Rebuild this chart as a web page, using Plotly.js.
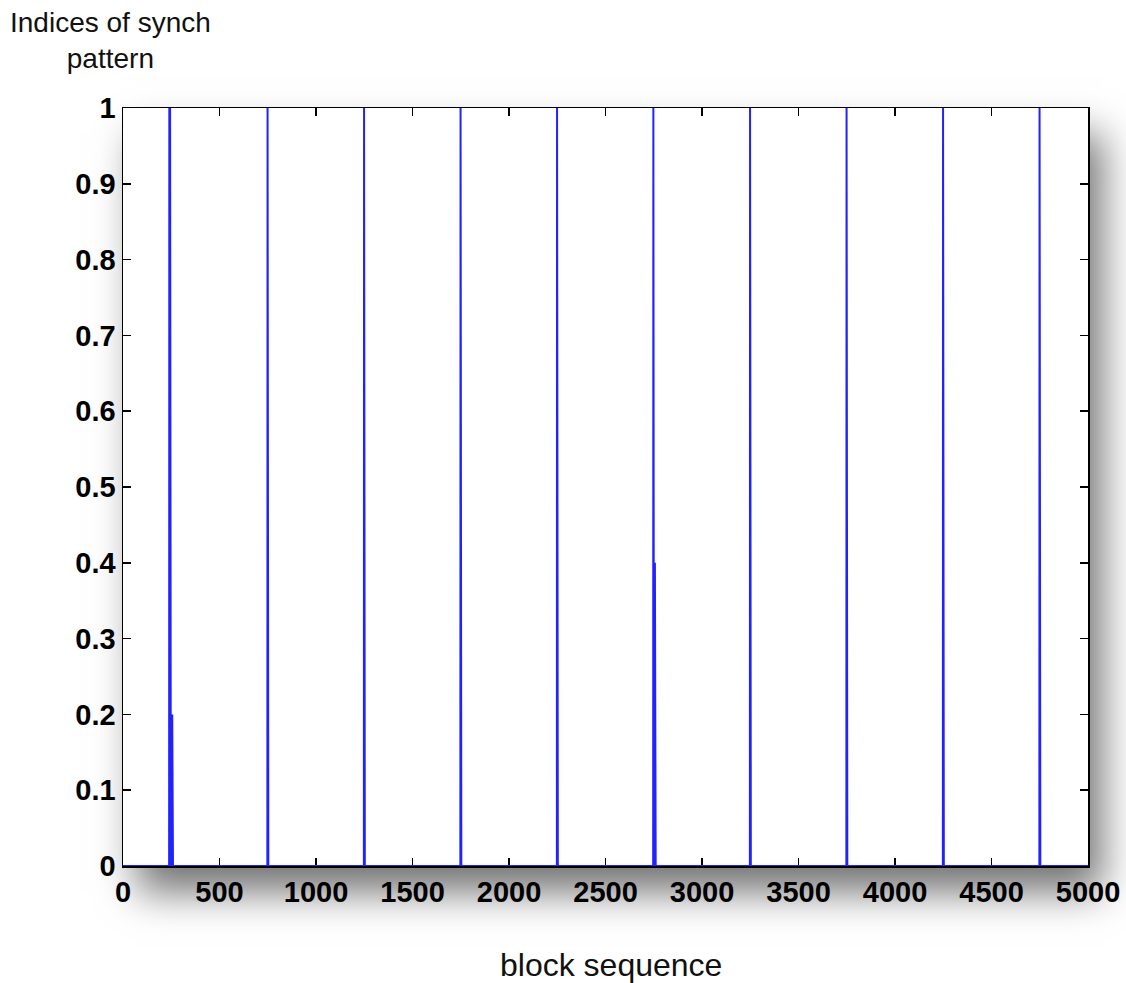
<!DOCTYPE html>
<html>
<head>
<meta charset="utf-8">
<script src="https://cdn.plot.ly/plotly-3.0.1.min.js"></script>
<style>
  html, body { margin: 0; padding: 0; background: #ffffff; }
  #wrap { position: relative; width: 1126px; height: 983px; }
  #shadow { position: absolute; left: 123px; top: 108px; width: 965px; height: 758px;
            background: #fff; box-shadow: 14px 26px 38px rgba(0,0,0,0.55); }
  #chart { position: absolute; left: 0; top: 0; width: 1126px; height: 983px; }
</style>
</head>
<body>
<div id="wrap">
  <div id="shadow"></div>
  <div id="chart"></div>
</div>
<script>
// Block sequence length and detected synch-pattern indices
const blockCount = 5000;
const spikeBlocks = [240, 242, 244, 246, 255, 749, 1249, 1749, 2249, 2748, 2752, 2756, 3249, 3749, 4249, 4749];
const spikeValues = [1,   1,   1,   1,   0.2, 1,   1,    1,    1,    1,    0.4,  0.4,  1,    1,    1,    1];
const xTickVals = [0, 500, 1000, 1500, 2000, 2500, 3000, 3500, 4000, 4500, 5000];
const yTickVals = [0, 0.1, 0.2, 0.3, 0.4, 0.5, 0.6, 0.7, 0.8, 0.9, 1];
const yTickText = ['0', '0.1', '0.2', '0.3', '0.4', '0.5', '0.6', '0.7', '0.8', '0.9', '1'];

const xs = [], ys = [];
for (let i = 0; i <= blockCount; i++) { xs.push(i); ys.push(0); }
spikeBlocks.forEach((b, k) => { ys[b] = spikeValues[k]; });

const trace = {
  x: xs, y: ys, type: 'scatter', mode: 'lines',
  line: { color: '#2222ff', width: 2 },
  hoverinfo: 'skip'
};

const tickFont = { family: 'Liberation Sans, Arial, sans-serif', size: 29, color: '#000', weight: 'bold' };
const layout = {
  width: 1126, height: 983,
  margin: { l: 123, r: 38, t: 108, b: 117 },
  paper_bgcolor: 'rgba(0,0,0,0)',
  plot_bgcolor: '#ffffff',
  showlegend: false,
  xaxis: {
    range: [0, 5000], tickvals: xTickVals, ticktext: xTickVals.map(String),
    ticks: 'inside', ticklen: 8, tickwidth: 1.5, tickcolor: '#000',
    showline: true, linecolor: '#000', linewidth: 1.5, mirror: 'ticks',
    showgrid: false, zeroline: false, layer: 'below traces',
    tickfont: tickFont
  },
  yaxis: {
    range: [0, 1], tickvals: yTickVals, ticktext: yTickText,
    ticks: 'inside', ticklen: 8, tickwidth: 1.5, tickcolor: '#000',
    showline: true, linecolor: '#000', linewidth: 1.5, mirror: 'ticks',
    showgrid: false, zeroline: false, layer: 'below traces',
    tickfont: tickFont
  },
  annotations: [
    { text: 'Indices of synch<br>pattern', xref: 'paper', yref: 'paper',
      x: (110 - 123) / 965, y: (866 - 40) / 758, xanchor: 'center', yanchor: 'middle',
      showarrow: false, align: 'center',
      font: { family: 'Liberation Sans, Arial, sans-serif', size: 28, color: '#111' } },
    { text: 'block sequence', xref: 'paper', yref: 'paper',
      x: (611 - 123) / 965, y: (866 - 965) / 758, xanchor: 'center', yanchor: 'middle',
      showarrow: false,
      font: { family: 'Liberation Sans, Arial, sans-serif', size: 32, color: '#111' } }
  ]
};

Plotly.newPlot('chart', [trace], layout, { displayModeBar: false, staticPlot: true });
</script>
</body>
</html>
